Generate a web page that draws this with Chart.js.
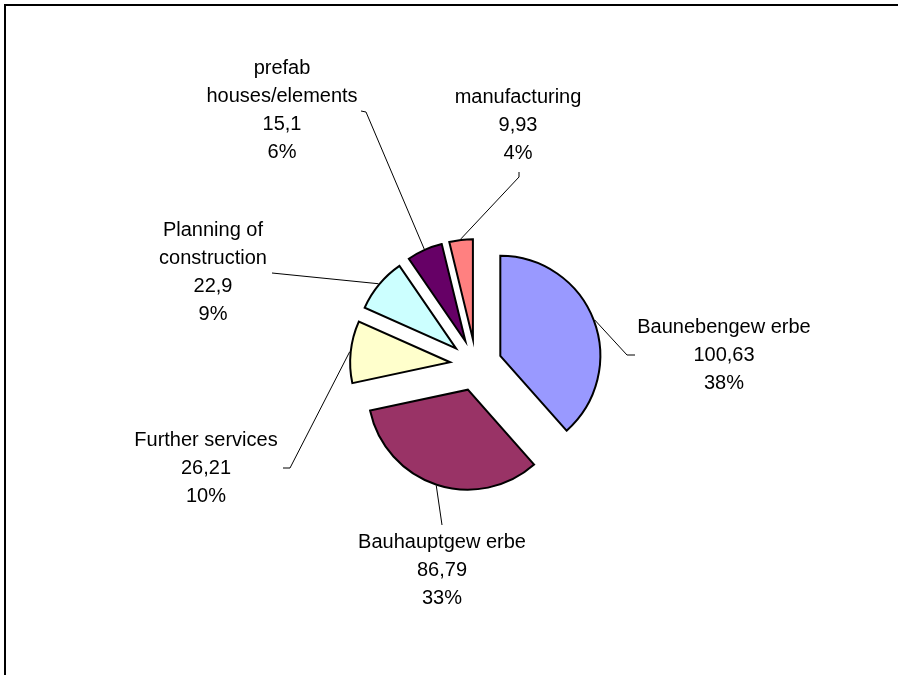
<!DOCTYPE html>
<html>
<head>
<meta charset="utf-8">
<script src="https://cdn.jsdelivr.net/npm/chart.js@4/dist/chart.umd.min.js"></script>
<style>
  html, body { margin: 0; padding: 0; background: #fff; overflow: hidden; }
  #frame {
    position: absolute; left: 4px; top: 4px;
    width: 1000px; height: 1000px;
    border: 2px solid #000;
  }
  #wrap { position: absolute; left: 0; top: 0; width: 898px; height: 675px; }
</style>
</head>
<body>
<div id="frame"></div>
<div id="wrap"><canvas id="pieChart"></canvas></div>
<script>
// data
const categories = ['Baunebengew erbe', 'Bauhauptgew erbe', 'Further services',
                    'Planning of\nconstruction', 'prefab\nhouses/elements', 'manufacturing'];
const values = [100.63, 86.79, 26.21, 22.9, 15.1, 9.93];
const colors = ['#9999FF', '#993366', '#FFFFCC', '#CCFFFF', '#660066', '#FF8080'];

// label placement, relative to the pie centre (elbow, tip of the leader and text block centre)
const labelLayout = [
    { elbow: [151, -10], tip: [159, -10], text: [248, -10] },
    { elbow: [-34, 160], tip: [-34, 160], text: [-34, 205] },
    { elbow: [-186, 103], tip: [-193, 103], text: [-270, 103] },
    { elbow: [-204, -92], tip: [-204, -92], text: [-263, -93] },
    { elbow: [-110, -253], tip: [-115, -254], text: [-194, -255] },
    { elbow: [43, -188], tip: [43, -193], text: [42, -240] }
];
const explode = 26;
const lineHeight = 28;

const total = values.reduce((a, b) => a + b, 0);

// push every slice out along its mid angle, without changing its radius
const explodePlugin = {
    id: 'explode',
    beforeDatasetsDraw(chart) {
        const area = chart.chartArea;
        const cx = (area.left + area.right) / 2;
        const cy = (area.top + area.bottom) / 2;
        chart.getDatasetMeta(0).data.forEach(function (arc) {
            const mid = (arc.startAngle + arc.endAngle) / 2;
            arc.x = cx + Math.cos(mid) * explode;
            arc.y = cy + Math.sin(mid) * explode;
        });
    }
};

const labelPlugin = {
    id: 'pieLabels',
    afterDatasetsDraw(chart) {
        const ctx = chart.ctx;
        const area = chart.chartArea;
        const cx = (area.left + area.right) / 2;
        const cy = (area.top + area.bottom) / 2;
        ctx.save();
        chart.getDatasetMeta(0).data.forEach(function (arc, i) {
            const lay = labelLayout[i];
            const mid = (arc.startAngle + arc.endAngle) / 2;
            const r = arc.outerRadius + 1;
            ctx.beginPath();
            ctx.strokeStyle = '#000';
            ctx.lineWidth = 1;
            ctx.moveTo(arc.x + Math.cos(mid) * r, arc.y + Math.sin(mid) * r);
            ctx.lineTo(cx + lay.elbow[0], cy + lay.elbow[1]);
            ctx.lineTo(cx + lay.tip[0], cy + lay.tip[1]);
            ctx.stroke();

            const lines = categories[i].split('\n');
            lines.push(String(values[i]).replace('.', ','));
            lines.push(Math.round(values[i] / total * 100) + '%');
            ctx.fillStyle = '#000';
            ctx.font = '20px "Liberation Sans", Arial, sans-serif';
            ctx.textAlign = 'center';
            ctx.textBaseline = 'middle';
            const top = cy + lay.text[1] - (lines.length - 1) * lineHeight / 2;
            lines.forEach(function (t, k) {
                ctx.fillText(t, cx + lay.text[0], top + k * lineHeight);
            });
        });
        ctx.restore();
    }
};

new Chart(document.getElementById('pieChart'), {
    type: 'pie',
    data: {
        labels: categories,
        datasets: [{
            data: values,
            backgroundColor: colors,
            borderColor: '#000',
            borderWidth: 2,
            borderJoinStyle: 'miter'
        }]
    },
    options: {
        responsive: true,
        maintainAspectRatio: false,
        animation: false,
        events: [],
        radius: 100,
        layout: { padding: { left: 54, top: 55, right: 0, bottom: 0 } },
        plugins: {
            legend: { display: false },
            tooltip: { enabled: false }
        }
    },
    plugins: [explodePlugin, labelPlugin]
});
</script>
</body>
</html>
